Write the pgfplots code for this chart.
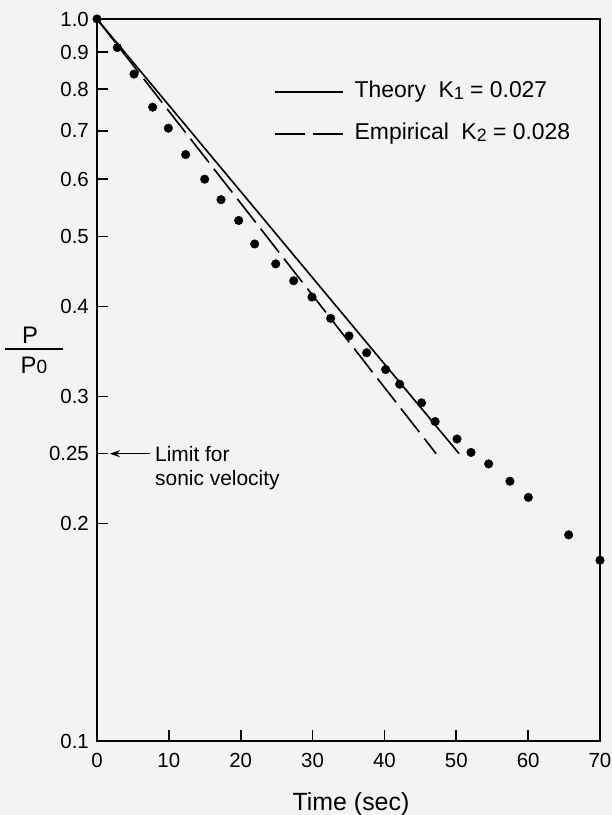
\documentclass[border=0pt]{standalone}
\usepackage{fontspec}
\setmainfont{Liberation Sans}
\usepackage{graphicx}
\usepackage{pgfplots}
\pgfplotsset{compat=1.18}
\usetikzlibrary{arrows.meta}
\definecolor{paper}{RGB}{243,243,241}
\newcommand{\sub}[1]{\raisebox{-2.5bp}{\scalebox{0.78}{#1}}}

\begin{document}
\begin{tikzpicture}
\fill[paper] (0,0) rectangle (612bp,815bp);
\begin{axis}[
  at={(97bp,74bp)}, anchor=south west,
  scale only axis, width=503bp, height=722bp,
  xmin=0, xmax=70, ymin=0.1, ymax=1,
  ymode=log,
  clip=false,
  axis line style={line width=1.4bp},
  xtick pos=bottom, ytick pos=left,
  tick align=inside,
  major tick length=11bp,
  tick style={line width=1.6bp, black},
  xtick={0,10,20,30,40,50,60,70},
  xticklabels={0,10,20,30,40,50,60,70},
  ytick={0.1,0.2,0.25,0.3,0.4,0.5,0.6,0.7,0.8,0.9,1},
  yticklabels={0.1,0.2,0.25,0.3,0.4,0.5,0.6,0.7,0.8,0.9,1.0},
  yminorticks=false,
  tick label style={font=\fontsize{20.5}{22}\selectfont},
  yticklabel style={inner sep=0pt, xshift=-8bp},
  xticklabel style={inner sep=0pt, yshift=-12bp},
  xlabel={Time (sec)},
  xlabel style={at={(rel axis cs:0.505,0)}, anchor=base, yshift=-69bp,
    font=\fontsize{25}{27}\selectfont},
  legend cell align=left,
  legend image code/.code={\draw[#1] (0bp,0bp) -- (68bp,0bp);},
  legend style={at={(rel axis cs:0.352,0.870)}, anchor=west,
    draw=none, fill=none, inner sep=0pt, outer sep=0pt, row sep=19bp,
    font=\fontsize{23}{25}\selectfont,
    nodes={inner sep=0pt, text height=17bp, text depth=6bp},
    /tikz/every odd column/.append style={column sep=11bp}},
]
% tick marks on the left and bottom edges
\pgfplotsinvokeforeach{10,20,30,40,50,60}{
  \draw[line width=1.6bp] (axis cs:#1,0.1) -- ++(0bp,11bp);}
\pgfplotsinvokeforeach{0.2,0.25,0.3,0.4,0.5,0.6,0.7,0.8,0.9}{
  \draw[line width=1.6bp] (axis cs:0,#1) -- ++(11bp,0bp);}
% theory and empirical fits, straight on the semi-log scale
\addplot[black, line width=1.6bp] coordinates {(0,1) (50.4,0.25)};
\addlegendentry{Theory\hspace{0.55em}K\sub{1} = 0.027}
\addplot[black, line width=1.6bp, dash pattern=on 30bp off 8bp] coordinates {(0,1) (47.2,0.25)};
\addlegendentry{Empirical\hspace{0.55em}K\sub{2} = 0.028}
% measured points
\addplot[only marks, mark=*, mark size=4.3bp, black, forget plot] coordinates {
  (0,1.0) (2.83,0.913) (5.15,0.839) (7.75,0.755) (9.93,0.706)
  (12.34,0.649) (14.98,0.600) (17.26,0.562) (19.72,0.526) (21.94,0.488)
  (24.87,0.458) (27.37,0.434) (29.92,0.412) (32.52,0.385) (35.07,0.364)
  (37.53,0.345) (40.17,0.327) (42.12,0.312) (45.17,0.294) (47.06,0.277)
  (50.1,0.262) (52.05,0.251) (54.5,0.242) (57.47,0.229) (60.03,0.2175)
  (65.64,0.193) (70,0.178)};
% sonic limit note
\draw[line width=1.4bp, -{Stealth[length=10bp, width=7bp]}] (axis cs:7.4,0.25) -- (axis cs:1.8,0.25);
\node[anchor=base west, inner sep=0pt, yshift=-8.2bp, font=\fontsize{21}{23}\selectfont]
  at (axis cs:8.07,0.25) {Limit for};
\node[anchor=base west, inner sep=0pt, yshift=-31.5bp, font=\fontsize{21}{23}\selectfont]
  at (axis cs:8.07,0.25) {sonic velocity};
% y label as a fraction
\draw[line width=1.3bp] ([xshift=-29bp]axis description cs:-0.1252,0.5429) -- ++(58bp,0bp);
\node[anchor=base, inner sep=0pt, xshift=-4bp, yshift=6bp, font=\fontsize{24}{26}\selectfont]
  at (axis description cs:-0.1252,0.5429) {P};
\node[anchor=base, inner sep=0pt, xshift=0bp, yshift=-24bp, font=\fontsize{24}{26}\selectfont]
  at (axis description cs:-0.1252,0.5429) {P\scalebox{0.8}{0}};
\end{axis}
\pgfresetboundingbox
\path[use as bounding box] (0,0) rectangle (612bp,815bp);
\end{tikzpicture}
\end{document}
